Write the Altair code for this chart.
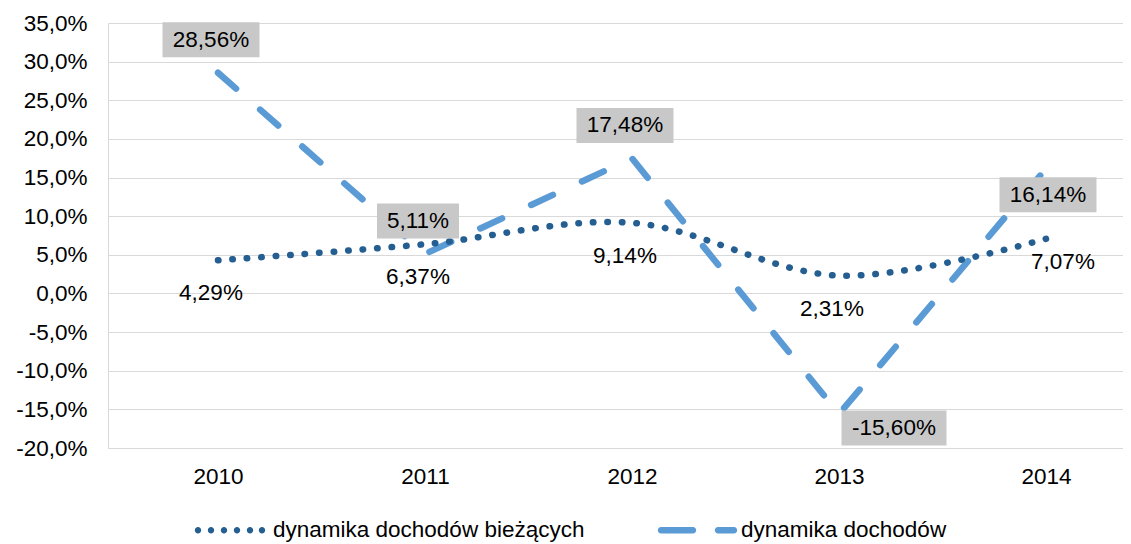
import altair as alt
import pandas as pd

# ---- data ----
years = [2010, 2011, 2012, 2013, 2014]
biezace = [4.29, 6.37, 9.14, 2.31, 7.07]
dochody = [28.56, 5.11, 17.48, -15.60, 16.14]
series_names = ["dynamika dochodów bieżących", "dynamika dochodów"]
series_colors = ["#255e91", "#5b9bd5"]
y_ticks = [-20, -15, -10, -5, 0, 5, 10, 15, 20, 25, 30, 35]

rows = []
for yr, v in zip(years, biezace):
    rows.append({"year": yr, "value": v, "series": series_names[0]})
for yr, v in zip(years, dochody):
    rows.append({"year": yr, "value": v, "series": series_names[1]})
df = pd.DataFrame(rows)

# ---- layout ----
W, H = 1015, 425
XMIN, XMAX = 2009.4686, 2014.372
YMIN, YMAX = -20, 35
PXX = W / (XMAX - XMIN)
PXY = H / (YMAX - YMIN)
FONT = "Liberation Sans"
FS = 22.5

xs = alt.Scale(domain=[XMIN, XMAX], nice=False, zero=False)
ys = alt.Scale(domain=[YMIN, YMAX], nice=False, zero=False)

x_axis = alt.Axis(values=years, format="d", grid=False, ticks=False, domain=True,
                  domainColor="#d9d9d9", labelPadding=17, labelFontSize=FS,
                  labelFont=FONT, labelColor="#000000", title=None, labelFlush=False)
y_axis = alt.Axis(values=y_ticks, grid=True, gridColor="#d9d9d9", ticks=False,
                  domain=True, domainColor="#d9d9d9", labelPadding=21,
                  labelFontSize=FS, labelFont=FONT, labelColor="#000000", title=None,
                  labelExpr="(datum.value < 0 ? '-' : '') + replace(format(abs(datum.value), '.1f'), '.', ',') + '%'")

def XF(field):
    return alt.X(field, scale=xs, axis=x_axis, title=None)

def YF(field):
    return alt.Y(field, scale=ys, axis=y_axis, title=None)

# ---- legend symbols (custom shapes) ----
def circle(cx, r):
    return f"M{cx - r},0A{r},{r} 0 1,0 {cx + r},0A{r},{r} 0 1,0 {cx - r},0Z"

def capsule(x1, x2, h):
    return (f"M{x1},{-h}L{x2},{-h}A{h},{h} 0 0,1 {x2},{h}"
            f"L{x1},{h}A{h},{h} 0 0,1 {x1},{-h}Z")

dot_path = "".join(circle(c, 0.08) for c in [-0.8, -0.475, -0.15, 0.175, 0.5, 0.8])
dash_path = capsule(-0.925, -0.125, 0.08) + capsule(0.5, 0.9, 0.08)

leg = alt.Legend(title=None, orient="none", legendX=82, legendY=467,
                 direction="horizontal", symbolSize=6400, symbolStrokeWidth=0,
                 symbolOpacity=1, labelFontSize=FS, labelFont=FONT,
                 labelColor="#000000", labelOffset=3, columnPadding=72,
                 padding=0, labelLimit=800)

legend_layer = alt.Chart(df).mark_point(filled=True, opacity=0, size=10).encode(
    x=XF("year:Q"), y=YF("value:Q"),
    color=alt.Color("series:N", scale=alt.Scale(domain=series_names, range=series_colors), legend=leg),
    shape=alt.Shape("series:N", scale=alt.Scale(domain=series_names, range=[dot_path, dash_path]), legend=leg),
)

line_doch = alt.Chart(df).transform_filter(
    alt.datum.series == series_names[1]
).mark_line(color=series_colors[1], strokeWidth=6.5, strokeDash=[24, 32],
            strokeCap="round").encode(x=XF("year:Q"), y=YF("value:Q"))

line_biez = alt.Chart(df).transform_filter(
    alt.datum.series == series_names[0]
).mark_line(color=series_colors[0], strokeWidth=6.5, strokeDash=[0.5, 14],
            strokeCap="round", interpolate="cardinal").encode(x=XF("year:Q"), y=YF("value:Q"))

label_expr = "(datum.value < 0 ? '-' : '') + replace(format(abs(datum.value), '.2f'), '.', ',') + '%'"

def label_calc(chart, dx_expr, dy_expr):
    return chart.transform_calculate(
        label=label_expr,
        dxp=dx_expr,
        dyp=dy_expr,
    ).transform_calculate(
        tx=f"datum.year + datum.dxp / {PXX}",
        ty=f"datum.value - datum.dyp / {PXY}",
        w="15 * length(replace(datum.label, '-', '')) + 7 + (indexof(datum.label, '-') >= 0 ? 8 : 0)",
    ).transform_calculate(
        bx1=f"datum.tx - datum.w / 2 / {PXX}",
        bx2=f"datum.tx + datum.w / 2 / {PXX}",
        by1=f"datum.ty - 17.5 / {PXY}",
        by2=f"datum.ty + 17.5 / {PXY}",
    )

doch_base = label_calc(
    alt.Chart(df).transform_filter(alt.datum.series == series_names[1]),
    "datum.year == 2013 ? 55 : (datum.year == 2014 ? 2 : -7)",
    "datum.year == 2013 ? 14 : (datum.year == 2014 ? 26 : -33)",
)
biez_base = label_calc(
    alt.Chart(df).transform_filter(alt.datum.series == series_names[0]),
    "datum.year == 2014 ? 17 : -7",
    "datum.year == 2014 ? 23 : 33",
)

boxes = doch_base.mark_rect(color="#c8c8c8").encode(
    x=XF("bx1:Q"), x2="bx2:Q",
    y=YF("by1:Q"), y2="by2:Q",
)

text_props = dict(font=FONT, fontSize=FS, align="center", baseline="middle", color="#000000")
doch_text = doch_base.mark_text(**text_props).encode(
    x=XF("tx:Q"), y=YF("ty:Q"), text="label:N")
biez_text = biez_base.mark_text(**text_props).encode(
    x=XF("tx:Q"), y=YF("ty:Q"), text="label:N")

chart = alt.layer(
    legend_layer, line_doch, line_biez, boxes, doch_text, biez_text
).properties(
    width=W, height=H,
    padding={"left": 100, "top": 15, "right": 0, "bottom": 96},
    autosize=alt.AutoSizeParams(type="none"),
).configure_view(strokeWidth=0)

chart.save("out.html", embed_options={"renderer": "svg", "actions": False})
